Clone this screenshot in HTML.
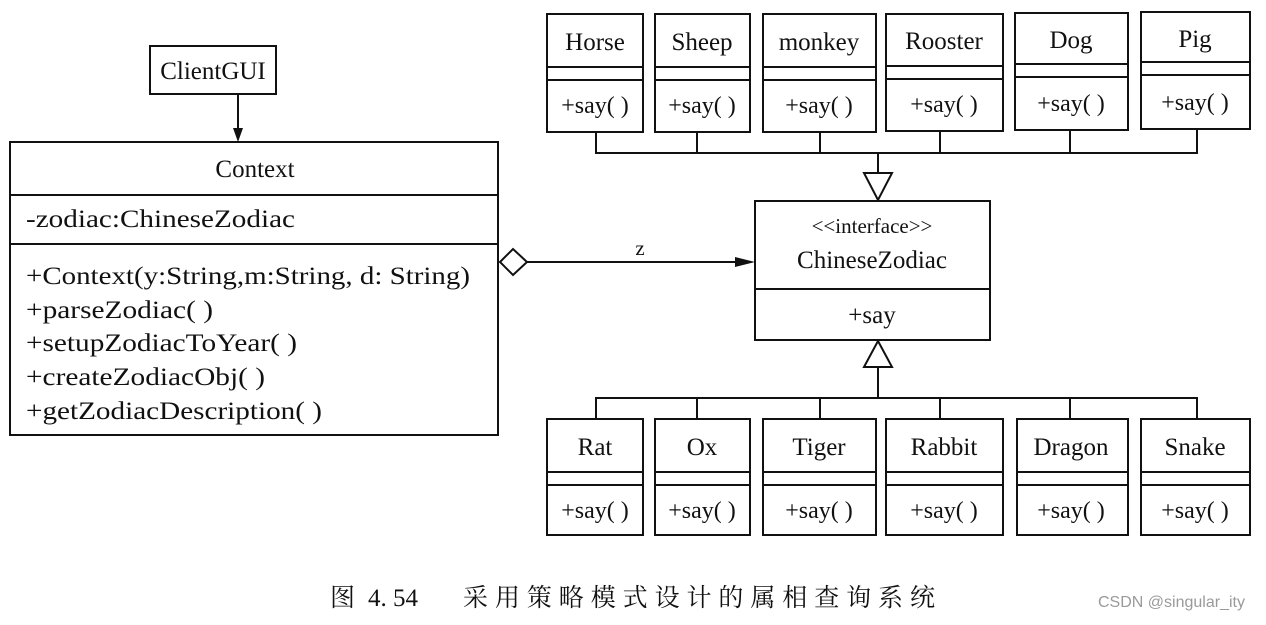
<!DOCTYPE html>
<html><head><meta charset="utf-8"><style>
body{margin:0;background:#fff;width:1266px;height:620px;overflow:hidden}
svg text{font-family:"Liberation Serif",serif;fill:#111}
</style></head><body>
<svg width="1266" height="620" viewBox="0 0 1266 620" xmlns="http://www.w3.org/2000/svg">
<g stroke="#111" stroke-width="2" fill="none">
<rect x="547" y="14" width="96" height="118"/><line x1="547" y1="67" x2="643" y2="67"/><line x1="547" y1="80" x2="643" y2="80"/>
<rect x="655" y="14" width="95" height="118"/><line x1="655" y1="67" x2="750" y2="67"/><line x1="655" y1="80" x2="750" y2="80"/>
<rect x="763" y="14" width="113" height="118"/><line x1="763" y1="67" x2="876" y2="67"/><line x1="763" y1="80" x2="876" y2="80"/>
<rect x="886" y="14" width="117" height="117"/><line x1="886" y1="66" x2="1003" y2="66"/><line x1="886" y1="79" x2="1003" y2="79"/>
<rect x="1015" y="13" width="113" height="117"/><line x1="1015" y1="64" x2="1128" y2="64"/><line x1="1015" y1="77" x2="1128" y2="77"/>
<rect x="1141" y="12" width="109" height="117"/><line x1="1141" y1="62" x2="1250" y2="62"/><line x1="1141" y1="75" x2="1250" y2="75"/>
<polyline points="596,132 596,153 1197,153 1197,129"/>
<line x1="697" y1="132" x2="697" y2="153"/><line x1="820" y1="132" x2="820" y2="153"/>
<line x1="940" y1="131" x2="940" y2="153"/><line x1="1070" y1="130" x2="1070" y2="153"/>
<line x1="878" y1="153" x2="878" y2="173"/>
<polygon points="864,173 892,173 878,200"/>
<rect x="755" y="201" width="235" height="139"/><line x1="755" y1="289" x2="990" y2="289"/>
<polygon points="878,341 864,367 892,367"/>
<line x1="878" y1="367" x2="878" y2="398"/>
<polyline points="596,419 596,398 1197,398 1197,419"/>
<line x1="697" y1="398" x2="697" y2="419"/><line x1="820" y1="398" x2="820" y2="419"/>
<line x1="940" y1="398" x2="940" y2="419"/><line x1="1070" y1="398" x2="1070" y2="419"/>
<rect x="547" y="419" width="96" height="116"/><line x1="547" y1="472" x2="643" y2="472"/><line x1="547" y1="485" x2="643" y2="485"/>
<rect x="655" y="419" width="95" height="116"/><line x1="655" y1="472" x2="750" y2="472"/><line x1="655" y1="485" x2="750" y2="485"/>
<rect x="763" y="419" width="113" height="116"/><line x1="763" y1="472" x2="876" y2="472"/><line x1="763" y1="485" x2="876" y2="485"/>
<rect x="886" y="419" width="117" height="116"/><line x1="886" y1="472" x2="1003" y2="472"/><line x1="886" y1="485" x2="1003" y2="485"/>
<rect x="1017" y="419" width="111" height="116"/><line x1="1017" y1="472" x2="1128" y2="472"/><line x1="1017" y1="485" x2="1128" y2="485"/>
<rect x="1141" y="419" width="109" height="116"/><line x1="1141" y1="472" x2="1250" y2="472"/><line x1="1141" y1="485" x2="1250" y2="485"/>
<rect x="150" y="46" width="126" height="48"/>
<line x1="238" y1="94" x2="238" y2="128"/>
<rect x="10" y="142" width="488" height="293"/>
<line x1="10" y1="195" x2="498" y2="195"/><line x1="10" y1="244" x2="498" y2="244"/>
<polygon points="500,262 513,249 527,262 513,275" fill="#fff"/>
<line x1="527" y1="262" x2="738" y2="262"/>
</g>
<polygon points="233,128 243,128 238,142" fill="#111"/>
<polygon points="735,257 755,262 735,267" fill="#111"/>
<g font-size="25" text-anchor="middle">
<text x="595" y="50">Horse</text><text x="702" y="50">Sheep</text><text x="819" y="50">monkey</text>
<text x="944" y="49">Rooster</text><text x="1071" y="48">Dog</text><text x="1195" y="47">Pig</text>
<g font-size="24">
<text x="595" y="113">+say( )</text><text x="702" y="113">+say( )</text><text x="819" y="113">+say( )</text>
<text x="944" y="112">+say( )</text><text x="1071" y="111">+say( )</text><text x="1195" y="110">+say( )</text>
<text x="595" y="518">+say( )</text><text x="702" y="518">+say( )</text><text x="819" y="518">+say( )</text>
<text x="944" y="518">+say( )</text><text x="1071" y="518">+say( )</text><text x="1195" y="518">+say( )</text>
</g>
<text x="595" y="455">Rat</text><text x="702" y="455">Ox</text><text x="819" y="455">Tiger</text>
<text x="944" y="455">Rabbit</text><text x="1071" y="455">Dragon</text><text x="1195" y="455">Snake</text>
<text x="872" y="233" font-size="21">&lt;&lt;interface&gt;&gt;</text>
<text x="872" y="268">ChineseZodiac</text>
<text x="872" y="323">+say</text>
<text x="213" y="79">ClientGUI</text>
<text x="255" y="177">Context</text>
<text x="640" y="255" font-size="21">z</text>
</g>
<g font-size="25">
<text x="26" y="227" textLength="269" lengthAdjust="spacingAndGlyphs">-zodiac:ChineseZodiac</text>
<text x="26" y="284" textLength="444" lengthAdjust="spacingAndGlyphs">+Context(y:String,m:String, d: String)</text>
<text x="26" y="318" textLength="187" lengthAdjust="spacingAndGlyphs">+parseZodiac( )</text>
<text x="26" y="351" textLength="271" lengthAdjust="spacingAndGlyphs">+setupZodiacToYear( )</text>
<text x="26" y="385" textLength="239" lengthAdjust="spacingAndGlyphs">+createZodiacObj( )</text>
<text x="26" y="419" textLength="296" lengthAdjust="spacingAndGlyphs">+getZodiacDescription( )</text>
</g>
<g font-size="25" style='font-family:"Liberation Serif","Noto Serif CJK SC",serif'>
<text x="330" y="606" style='font-family:"Noto Serif CJK SC",serif'>图</text>
<text x="368" y="606">4. 54</text>
<text x="463" y="606" textLength="472" lengthAdjust="spacing" style='font-family:"Noto Serif CJK SC",serif'>采用策略模式设计的属相查询系统</text>
</g>
<text x="1098" y="607" font-size="16" style='font-family:"Liberation Sans",sans-serif;fill:#9a9a9a'>CSDN @singular_ity</text>
</svg>
</body></html>
